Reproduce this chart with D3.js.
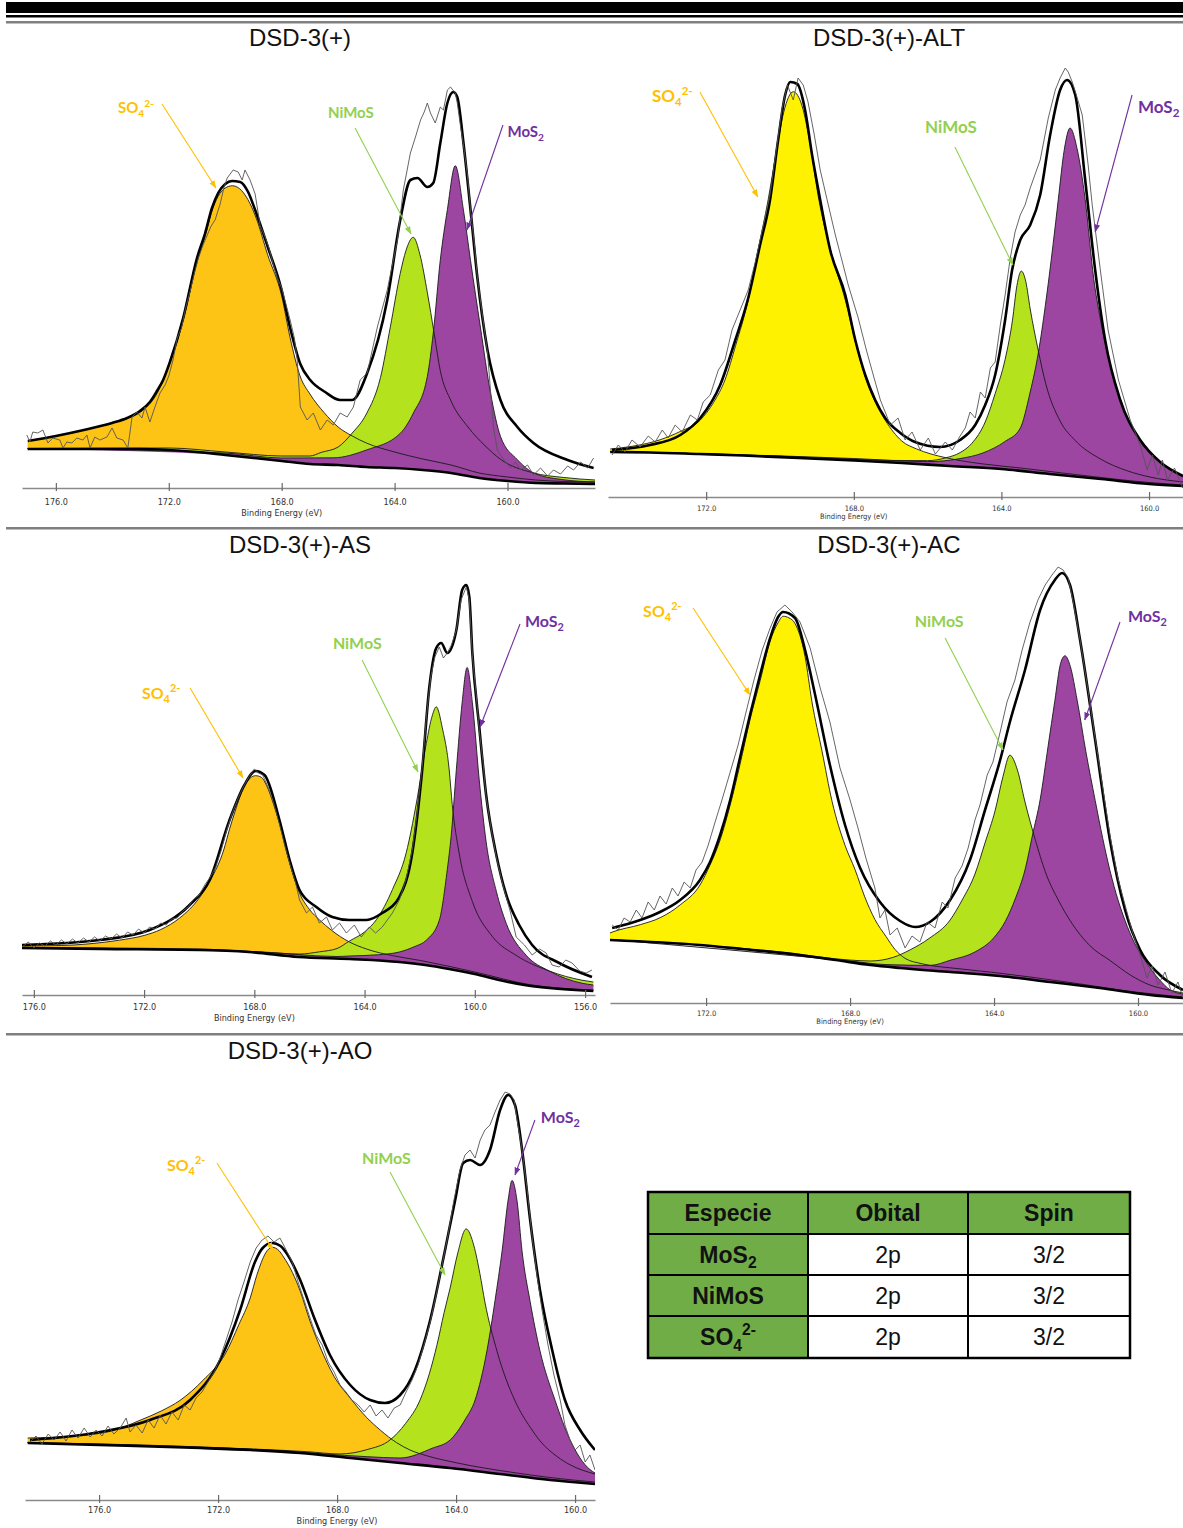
<!DOCTYPE html>
<html>
<head>
<meta charset="utf-8">
<script src="https://cdn.jsdelivr.net/npm/d3@7"></script>
<style>
  body { margin: 0; background: #fff; }
  svg { display: block; }
</style>
</head>
<body>
<svg id="fig" width="1183" height="1528"></svg>
<script>
// S 2p fits, binding energy (eV) vs intensity (a.u.). Components are
// heights above the Shirley background.

// --- DSD-3(+) ---
const ticksBase = [176, 172, 168, 164, 160];
const bgBase = [[177.0, 39], [176, 39], [175, 39], [174, 39], [173, 39], [172, 38], [171, 36], [170, 33], [169, 30], [168, 27], [167, 24], [166, 23], [165, 21], [164, 20], [163, 18], [162, 15], [161, 10], [160, 7], [159, 5], [158, 4.5], [156.9, 4]];
const so4Base = [[177.0, 8], [176, 13], [175, 19], [174, 26], [173.5, 30], [173, 37], [172.4, 57], [172, 84], [171.5, 130], [171, 190], [170.7, 218], [170.5, 240], [170.25, 258], [170, 267], [169.75, 270], [169.5, 268], [169.2, 258], [168.9, 240], [168.5, 205], [168, 165], [167.7, 124], [167.35, 87], [167, 70], [166.5, 52], [166, 38], [165.5, 30], [165, 24], [164, 16], [163, 11], [162, 8], [161, 5], [160, 4], [159, 3], [158, 2], [156.9, 2]];
const nimosBase = [[177.0, 0.5], [172, 2], [170, 3], [168, 5], [167, 8], [166.6, 12], [166, 18], [165.5, 33], [165, 53], [164.5, 90], [164.15, 141], [163.8, 195], [163.6, 218], [163.34, 232], [163.1, 215], [162.84, 178], [162.6, 138], [162.38, 101], [162, 72], [161.4, 49], [160.8, 33], [160.25, 21], [159.1, 10], [158, 6], [156.9, 4]];
const mos2Base = [[177.0, 0.5], [170, 2], [168, 3], [166.17, 7], [165, 17], [163.8, 35], [163.34, 56], [162.84, 94], [162.63, 138], [162.38, 212], [162.13, 263], [161.85, 308], [161.56, 265], [161.31, 216], [160.96, 151], [160.6, 86], [160.25, 44], [159.65, 22], [159.08, 10], [158.1, 4], [156.9, 2]];
const envBase = [[176.99, 47], [176.0, 52], [175.01, 58], [174.01, 65], [173.48, 70], [173.02, 77], [172.67, 86], [172.42, 97], [172.2, 108], [171.96, 126], [171.49, 170], [171.0, 230], [170.71, 255], [170.47, 280], [170.25, 295], [170.0, 304], [169.76, 307], [169.47, 306], [169.19, 296], [168.94, 278], [168.48, 240], [168.02, 200], [167.7, 160], [167.34, 124], [166.99, 108], [166.46, 96], [165.93, 88], [165.5, 88], [164.97, 115], [164.26, 188], [163.8, 268], [163.44, 308], [163.19, 310], [162.84, 301], [162.63, 305], [162.38, 345], [162.13, 385], [161.92, 396], [161.78, 391], [161.56, 345], [161.31, 278], [161.07, 211], [160.71, 138], [160.25, 88], [159.65, 61], [159.08, 45], [157.87, 28], [156.95, 20]];
const rawBase = [[177.03, 53], [176.92, 46], [176.82, 56], [176.64, 55], [176.46, 58], [176.28, 45], [176.11, 50], [175.86, 48], [175.75, 40], [175.61, 46], [175.43, 45], [175.26, 50], [175.04, 48], [174.9, 53], [174.79, 40], [174.62, 51], [174.44, 48], [174.19, 51], [174.01, 60], [173.84, 50], [173.62, 48], [173.45, 40], [173.3, 71], [173.13, 76], [172.95, 70], [172.84, 81], [172.67, 66], [172.49, 81], [172.31, 95], [172.13, 103], [172.0, 112], [171.85, 128], [171.7, 150], [171.55, 160], [171.4, 180], [171.25, 196], [171.1, 214], [170.95, 230], [170.8, 242], [170.65, 252], [170.5, 262], [170.36, 268], [170.18, 284], [170.05, 300], [169.93, 310], [169.72, 318], [169.54, 316], [169.4, 308], [169.3, 318], [169.12, 308], [168.94, 294], [168.76, 262], [168.6, 252], [168.45, 240], [168.3, 224], [168.15, 210], [168.0, 200], [167.85, 184], [167.7, 168], [167.55, 150], [167.45, 128], [167.34, 81], [167.1, 68], [166.88, 75], [166.63, 58], [166.39, 68], [166.17, 63], [165.93, 75], [165.68, 71], [165.46, 81], [165.22, 108], [164.97, 115], [164.61, 161], [164.26, 198], [163.9, 248], [163.69, 298], [163.44, 335], [163.26, 351], [163.08, 368], [162.95, 376], [162.84, 385], [162.73, 375], [162.56, 365], [162.38, 381], [162.27, 378], [162.13, 398], [162.02, 401], [161.85, 395], [161.78, 385], [161.67, 363], [161.56, 343], [161.42, 313], [161.31, 278], [161.17, 243], [161.07, 211], [160.89, 173], [160.71, 136], [160.5, 61], [160.36, 38], [160.25, 33], [160.07, 26], [159.89, 20], [159.72, 26], [159.54, 18], [159.29, 23], [159.08, 13], [158.83, 20], [158.58, 12], [158.37, 18], [158.12, 14], [157.87, 22], [157.66, 18], [157.41, 26], [157.16, 20], [156.95, 30]];

// --- DSD-3(+)-ALT ---
const ticksAlt = [172, 168, 164, 160];
const bgAlt = [[174.6, 45], [173.5, 44.5], [172.2, 43], [171, 41.5], [169.5, 39], [168, 36.5], [166.7, 34], [165.4, 31], [164, 28], [162.7, 23], [161.3, 18], [160, 13], [159.08, 11]];
const so4Alt = [[174.6, 3], [174, 6], [173.25, 13], [172.7, 22], [172.16, 34], [171.8, 52], [171.49, 75], [171.2, 110], [170.86, 156], [170.6, 205], [170.32, 257], [170.1, 305], [169.9, 345], [169.64, 366], [169.4, 352], [169.2, 318], [168.96, 262], [168.6, 205], [168.23, 160], [167.95, 118], [167.69, 84], [167.4, 58], [167.15, 42], [166.7, 22], [166.3, 15], [165.93, 11], [165.5, 8], [165.12, 6], [164.5, 4], [163.5, 3], [162, 2], [160, 1.5], [159.08, 1]];
const nimosAlt = [[174.6, 0.5], [170, 1], [167, 2], [166, 4], [165.5, 8], [165.12, 14], [164.8, 24], [164.44, 46], [164.17, 75], [163.9, 110], [163.7, 150], [163.58, 185], [163.46, 200], [163.34, 190], [163.22, 163], [163.0, 122], [162.8, 90], [162.41, 54], [162, 36], [161.32, 20], [160.6, 11], [159.97, 7], [159.08, 4]];
const mos2Alt = [[174.6, 0.5], [168, 2], [166, 3], [165.12, 8], [164.5, 15], [163.9, 28], [163.5, 42], [163.22, 80], [163, 120], [162.81, 168], [162.6, 230], [162.46, 275], [162.3, 325], [162.14, 348], [161.95, 328], [161.73, 278], [161.5, 200], [161.32, 160], [161, 108], [160.78, 80], [160.51, 58], [160.1, 38], [159.7, 22], [159.4, 15], [159.08, 10]];
const envAlt = [[174.55, 47], [173.52, 52], [172.7, 62], [172.16, 79], [171.62, 112], [171.21, 157], [170.86, 199], [170.54, 252], [170.27, 297], [170.05, 357], [169.86, 402], [169.72, 415], [169.53, 413], [169.32, 387], [169.13, 342], [168.96, 307], [168.64, 247], [168.23, 202], [167.96, 157], [167.69, 122], [167.42, 97], [167.15, 79], [166.74, 64], [166.34, 55], [165.66, 50], [165.12, 57], [164.71, 72], [164.44, 92], [164.17, 122], [163.9, 177], [163.71, 227], [163.49, 257], [163.22, 272], [162.95, 302], [162.68, 362], [162.41, 407], [162.22, 417], [162.0, 402], [161.73, 317], [161.46, 227], [161.19, 157], [160.78, 97], [160.24, 57], [159.7, 35], [159.08, 21]];
const rawAlt = [[174.55, 42], [174.38, 52], [174.2, 45], [174.01, 57], [173.79, 50], [173.57, 61], [173.38, 55], [173.19, 67], [173.03, 59], [172.84, 72], [172.65, 65], [172.43, 82], [172.24, 77], [172.08, 95], [171.89, 102], [171.67, 127], [171.49, 137], [171.3, 167], [171.08, 187], [170.86, 207], [170.67, 235], [170.48, 267], [170.27, 302], [170.1, 347], [169.94, 389], [169.8, 412], [169.64, 397], [169.51, 419], [169.37, 412], [169.24, 395], [169.07, 362], [168.91, 327], [168.69, 292], [168.5, 262], [168.31, 235], [168.15, 212], [167.88, 179], [167.66, 147], [167.45, 119], [167.28, 97], [167.01, 72], [166.8, 79], [166.61, 57], [166.42, 65], [166.2, 47], [165.98, 59], [165.79, 43], [165.52, 55], [165.33, 47], [165.12, 61], [164.98, 69], [164.85, 85], [164.71, 79], [164.57, 105], [164.44, 99], [164.3, 129], [164.17, 135], [164.03, 172], [163.9, 202], [163.76, 239], [163.63, 265], [163.49, 282], [163.36, 292], [163.22, 309], [162.95, 337], [162.73, 379], [162.54, 407], [162.41, 419], [162.27, 429], [162.19, 425], [162.08, 415], [161.97, 402], [161.81, 382], [161.65, 332], [161.54, 292], [161.32, 227], [161.11, 167], [160.83, 117], [160.51, 77], [160.24, 52], [160.05, 27], [159.91, 42], [159.75, 22], [159.64, 37], [159.5, 17], [159.31, 29], [159.09, 9]];

// --- DSD-3(+)-AS ---
const ticksAs = [176, 172, 168, 164, 160, 156];
const bgAs = [[176.43, 47], [173.6, 46], [170, 45], [168.2, 43], [166.4, 38], [164.55, 36], [162.74, 33], [161.8, 30], [160.93, 26], [160, 21], [159.12, 15], [158.2, 10], [157.3, 7], [155.7, 4]];
const so4As = [[176.43, 2], [175, 3], [174, 5], [172.9, 9], [172, 14], [171.4, 20], [170.7, 32], [170, 52], [169.6, 70], [169.1, 102], [168.9, 122], [168.7, 140], [168.36, 166], [168.15, 174], [167.96, 177], [167.75, 176], [167.55, 168], [167.3, 150], [167.0, 124], [166.7, 92], [166.36, 64], [166.0, 48], [165.64, 38], [165.2, 28], [164.55, 17], [163.93, 11], [163, 6], [162, 4], [160, 2], [158, 1], [155.7, 1]];
const nimosAs = [[176.43, 0.5], [170, 1], [167, 2], [166.36, 3], [165.64, 6], [165, 10], [164.55, 18], [164, 28], [163.57, 41], [162.99, 72], [162.49, 110], [162.12, 161], [161.76, 222], [161.55, 250], [161.4, 260], [161.18, 240], [160.93, 199], [160.82, 165], [160.57, 118], [160.09, 72], [159.37, 42], [158.5, 28], [157.3, 17], [156.11, 10], [155.7, 9]];
const mos2As = [[176.43, 0.5], [168, 1], [165, 2], [164.55, 3], [163.5, 6], [162.74, 10], [162.2, 17], [161.76, 25], [161.29, 47], [161, 99], [160.86, 133], [160.67, 201], [160.46, 269], [160.28, 305], [160.09, 271], [159.84, 195], [159.59, 135], [159.22, 88], [158.86, 58], [158.14, 30], [157.3, 17], [156.11, 7], [155.7, 6]];
const envAs = [[176.43, 50], [173.61, 55], [171.8, 65], [170.35, 90], [169.62, 115], [168.9, 175], [168.36, 210], [167.96, 224], [167.63, 220], [167.09, 175], [166.72, 135], [166.36, 105], [165.75, 88], [165.17, 78], [164.55, 75], [163.93, 75], [163.36, 82], [162.74, 98], [162.27, 142], [161.91, 225], [161.65, 308], [161.4, 347], [161.22, 352], [161.0, 342], [160.67, 365], [160.46, 405], [160.31, 410], [160.2, 398], [160.09, 342], [159.84, 268], [159.59, 200], [159.22, 140], [158.86, 100], [158.39, 70], [157.92, 50], [156.94, 32], [155.75, 18]];
const rawAs = [[176.43, 48], [176.2, 53], [176.0, 47], [175.8, 52], [175.6, 49], [175.4, 54], [175.2, 50], [175.0, 55], [174.8, 51], [174.6, 56], [174.4, 52], [174.2, 57], [174.0, 53], [173.8, 58], [173.6, 54], [173.4, 59], [173.2, 56], [173.0, 61], [172.8, 57], [172.6, 63], [172.4, 60], [172.2, 66], [172.0, 62], [171.8, 68], [171.6, 66], [171.4, 72], [171.2, 70], [171.0, 76], [170.8, 77], [170.6, 84], [170.4, 88], [170.2, 96], [170.0, 100], [169.8, 110], [169.6, 118], [169.4, 128], [169.2, 145], [169.0, 165], [168.8, 182], [168.6, 196], [168.4, 208], [168.2, 218], [168.0, 226], [167.85, 222], [167.7, 220], [167.5, 208], [167.3, 192], [167.1, 172], [166.9, 150], [166.7, 130], [166.5, 112], [166.36, 95], [166.11, 82], [165.89, 88], [165.64, 72], [165.38, 78], [165.17, 65], [164.91, 72], [164.66, 62], [164.37, 70], [164.12, 58], [163.83, 68], [163.6, 62], [163.36, 68], [162.99, 82], [162.74, 95], [162.5, 115], [162.27, 145], [162.1, 180], [161.91, 228], [161.75, 280], [161.6, 318], [161.45, 338], [161.29, 348], [161.14, 337], [161.0, 342], [160.85, 350], [160.67, 365], [160.5, 395], [160.31, 408], [160.2, 395], [160.09, 340], [159.95, 300], [159.84, 265], [159.7, 232], [159.59, 198], [159.4, 165], [159.22, 138], [159.0, 112], [158.86, 98], [158.7, 82], [158.5, 58], [158.2, 50], [157.92, 40], [157.65, 46], [157.41, 42], [157.2, 30], [156.94, 28], [156.7, 35], [156.47, 32], [156.2, 24], [155.96, 22], [155.75, 25]];

// --- DSD-3(+)-AC ---
const ticksAc = [172, 168, 164, 160];
const bgAc = [[174.67, 63], [172.17, 58], [171, 54], [169.39, 48], [168.4, 43], [167.44, 38], [166.61, 35], [165.22, 31], [163.83, 27], [162.44, 21], [161.06, 15], [159.67, 8], [158.75, 5]];
const so4Ac = [[174.67, 7], [174.61, 8], [173.83, 17], [173.28, 25], [172.72, 39], [172.17, 60], [171.89, 81], [171.61, 107], [171.33, 143], [171.06, 184], [170.78, 230], [170.5, 270], [170.22, 311], [170.0, 330], [169.86, 337], [169.7, 336], [169.53, 331], [169.25, 299], [169.06, 255], [168.78, 207], [168.5, 158], [168.14, 116], [167.86, 93], [167.6, 68], [167.31, 46], [167.0, 30], [166.75, 18], [166.47, 10], [166, 6], [165, 4], [164, 3], [162, 2], [160, 1], [158.75, 1]];
const nimosAc = [[174.67, 0.5], [170, 1], [168, 2], [167.44, 4], [166.8, 10], [166.33, 19], [165.8, 32], [165.22, 52], [164.9, 72], [164.53, 100], [164.25, 132], [163.97, 165], [163.75, 200], [163.56, 222], [163.35, 208], [163.14, 177], [162.85, 140], [162.58, 110], [162.2, 82], [161.89, 64], [161.3, 40], [160.78, 29], [160.2, 17], [159.67, 10], [159.2, 7], [158.75, 5]];
const mos2Ac = [[174.67, 0.5], [168, 1], [167, 2], [165.78, 5], [165.2, 12], [164.53, 22], [164, 38], [163.69, 55], [163.4, 80], [163.14, 109], [162.93, 145], [162.72, 181], [162.5, 235], [162.31, 282], [162.15, 320], [162.03, 328], [161.88, 318], [161.69, 285], [161.45, 235], [161.19, 187], [160.98, 150], [160.78, 119], [160.55, 90], [160.36, 71], [160.1, 50], [159.81, 34], [159.4, 16], [159.11, 7], [158.75, 4]];
const envAc = [[174.61, 75], [173.83, 83], [173.28, 91], [172.72, 103], [172.17, 123], [171.89, 141], [171.61, 168], [171.33, 203], [171.06, 245], [170.78, 288], [170.5, 328], [170.22, 365], [170.0, 386], [169.86, 391], [169.53, 385], [169.25, 353], [168.97, 308], [168.56, 238], [168.14, 178], [167.72, 135], [167.17, 101], [166.61, 82], [166.19, 76], [165.78, 81], [165.22, 103], [164.67, 143], [164.25, 193], [163.83, 243], [163.56, 281], [163.14, 333], [162.72, 393], [162.31, 423], [162.11, 430], [161.89, 418], [161.61, 363], [161.19, 263], [160.78, 163], [160.36, 93], [159.94, 53], [159.39, 28], [158.75, 13]];
const rawAc = [[174.61, 78], [174.44, 73], [174.28, 85], [174.11, 81], [173.94, 93], [173.78, 85], [173.61, 101], [173.44, 93], [173.28, 107], [173.11, 99], [172.94, 115], [172.78, 107], [172.61, 121], [172.44, 115], [172.28, 133], [172.11, 141], [171.94, 158], [171.75, 181], [171.56, 203], [171.33, 231], [171.11, 258], [170.89, 291], [170.67, 323], [170.44, 353], [170.22, 375], [170.03, 391], [169.81, 398], [169.61, 391], [169.39, 381], [169.11, 355], [168.83, 315], [168.56, 281], [168.28, 235], [168.0, 203], [167.78, 175], [167.56, 145], [167.31, 115], [167.17, 85], [167.03, 93], [166.89, 68], [166.69, 75], [166.47, 55], [166.28, 67], [166.06, 61], [165.86, 81], [165.64, 75], [165.44, 101], [165.28, 95], [165.08, 125], [164.89, 137], [164.72, 155], [164.53, 183], [164.39, 198], [164.19, 228], [164.03, 241], [163.83, 271], [163.64, 301], [163.42, 323], [163.22, 353], [163.0, 381], [162.78, 403], [162.58, 418], [162.39, 428], [162.22, 436], [162.08, 433], [161.94, 425], [161.81, 403], [161.61, 363], [161.39, 313], [161.19, 265], [160.97, 213], [160.78, 168], [160.56, 125], [160.36, 98], [160.17, 73], [159.94, 48], [159.75, 25], [159.61, 37], [159.44, 18], [159.25, 31], [159.06, 10], [158.89, 21], [158.75, 5]];

// --- DSD-3(+)-AO ---
const ticksAo = [176, 172, 168, 164, 160];
const bgAo = [[178.4, 57], [176, 55], [172.6, 52], [170.9, 50], [169.24, 47], [167.56, 42], [165.88, 37], [164.2, 32], [162.52, 26], [160.84, 20], [159.33, 16]];
const so4Ao = [[178.4, 5], [176.64, 9], [175.5, 15], [174.62, 26], [173.9, 36], [173.28, 47], [172.5, 68], [171.76, 95], [171.3, 125], [170.92, 152], [170.7, 175], [170.55, 188], [170.4, 198], [170.18, 204], [169.95, 201], [169.8, 195], [169.5, 180], [169.24, 162], [168.9, 132], [168.57, 108], [168.1, 80], [167.56, 60], [167, 42], [166.55, 31], [166, 20], [165.55, 14], [165, 10], [164, 6], [162, 3], [160, 2], [159.33, 2]];
const nimosAo = [[178.4, 0.5], [172, 1], [169, 2], [167.9, 3], [167, 10], [166.22, 22], [165.7, 40], [165.21, 65], [164.9, 92], [164.64, 122], [164.4, 155], [164.2, 180], [163.95, 215], [163.66, 241], [163.4, 225], [163.2, 198], [163.03, 170], [162.62, 122], [162.02, 75], [161.5, 50], [161.18, 38], [160.6, 24], [160.17, 17], [159.33, 10]];
const mos2Ao = [[178.4, 0.5], [170, 1], [167, 3], [165.88, 5], [164.8, 18], [164.2, 28], [163.7, 50], [163.36, 71], [162.96, 122], [162.69, 173], [162.45, 224], [162.25, 275], [162.12, 295], [161.95, 275], [161.78, 225], [161.51, 176], [161.18, 128], [160.67, 80], [160.17, 42], [159.5, 14], [159.33, 11]];
const envAo = [[178.32, 60], [175.97, 68], [174.29, 80], [172.94, 100], [171.93, 140], [171.26, 190], [170.76, 238], [170.5, 252], [170.18, 257], [169.9, 254], [169.75, 249], [169.24, 220], [168.74, 180], [168.24, 145], [167.56, 115], [166.89, 100], [166.39, 97], [165.88, 105], [165.38, 130], [164.87, 180], [164.37, 250], [164.03, 300], [163.76, 337], [163.53, 340], [163.19, 335], [162.86, 350], [162.52, 390], [162.25, 405], [162.02, 395], [161.78, 350], [161.51, 280], [161.18, 210], [160.77, 150], [160.34, 100], [159.83, 70], [159.33, 50]];
const rawAo = [[178.32, 58], [178.12, 64], [177.92, 56], [177.71, 66], [177.51, 60], [177.31, 68], [177.11, 59], [176.91, 70], [176.71, 62], [176.5, 72], [176.3, 63], [176.1, 70], [175.9, 64], [175.7, 74], [175.5, 66], [175.29, 72], [175.09, 82], [174.96, 68], [174.76, 75], [174.55, 67], [174.35, 80], [174.15, 72], [173.95, 85], [173.75, 76], [173.55, 88], [173.34, 80], [173.14, 95], [172.94, 90], [172.74, 102], [172.54, 108], [172.34, 118], [172.13, 128], [171.93, 142], [171.73, 160], [171.53, 178], [171.33, 200], [171.13, 218], [170.92, 238], [170.72, 252], [170.52, 260], [170.32, 264], [170.12, 258], [169.92, 262], [169.71, 250], [169.51, 238], [169.31, 218], [169.11, 200], [168.91, 182], [168.71, 165], [168.5, 155], [168.3, 138], [168.1, 128], [167.9, 115], [167.7, 108], [167.5, 100], [167.29, 95], [167.09, 88], [166.89, 95], [166.69, 84], [166.49, 90], [166.29, 82], [166.08, 92], [165.88, 95], [165.68, 108], [165.48, 120], [165.28, 135], [165.08, 155], [164.87, 178], [164.67, 205], [164.47, 235], [164.27, 265], [164.07, 300], [163.87, 330], [163.7, 345], [163.53, 350], [163.36, 342], [163.19, 360], [163.03, 370], [162.86, 375], [162.69, 388], [162.52, 400], [162.35, 408], [162.18, 406], [162.05, 400], [161.92, 375], [161.78, 350], [161.61, 310], [161.45, 265], [161.28, 225], [161.11, 190], [160.91, 155], [160.71, 125], [160.5, 100], [160.34, 75], [160.17, 60], [160.0, 50], [159.83, 55], [159.66, 38], [159.5, 45], [159.33, 30]];

// --- table ---
const tableHeader = ['Especie', 'Obital', 'Spin'];
const tableSpecies = ['MoS_2', 'NiMoS', 'SO_4^2-'];
const tableOrbital = ['2p', '2p', '2p'];
const tableSpin = ['3/2', '3/2', '3/2'];

const fills = {so4: '#FDC315', so4Alt: '#FFF200', nimos: '#B4E31E', mos2: '#9C45A1'};
const ink = {so4: '#FFC000', nimos: '#92D050', mos2: '#7030A0'};
const FONT = '"Liberation Sans", Arial, sans-serif';
const NARROW = '"Liberation Sans Narrow", "DejaVu Sans Condensed", sans-serif';

// label / arrow anchors given in data units [BE, intensity]
const panels = [
  {title: 'DSD-3(+)', bg: bgBase, comps: [so4Base, nimosBase, mos2Base], env: envBase, raw: rawBase, ticks: ticksBase,
    so4Fill: fills.so4, domain: [177.2, 156.9], x0: 22, x1: 595, axisY: 488, titleX: 300, titleY: 46,
    tickFont: 9, tickDy: 17, beDy: 28, noteSize: 15,
    notes: [{key: 'so4', text: 'SO_4^2-', at: [173.8, 375], from: [172.24, 384], to: [170.33, 300]},
      {key: 'nimos', text: 'NiMoS', at: [166.36, 370], from: [165.4, 360], to: [163.42, 254]},
      {key: 'mos2', text: 'MoS_2', at: [160.0, 351], from: [160.16, 363], to: [161.44, 258]}]},
  {title: 'DSD-3(+)-ALT', bg: bgAlt, comps: [so4Alt, nimosAlt, mos2Alt], env: envAlt, raw: rawAlt, ticks: ticksAlt,
    so4Fill: fills.so4Alt, domain: [174.66, 159.08], x0: 608, x1: 1183, axisY: 497, titleX: 889, titleY: 46,
    tickFont: 7.5, tickDy: 13.5, beDy: 21.5, noteSize: 17,
    notes: [{key: 'so4', text: 'SO_4^2-', at: [173.47, 395], from: [172.17, 405], to: [170.6, 300]},
      {key: 'nimos', text: 'NiMoS', at: [166.07, 364], from: [165.26, 350], to: [163.69, 232]},
      {key: 'mos2', text: 'MoS_2', at: [160.3, 384], from: [160.46, 402], to: [161.46, 265]}]},
  {title: 'DSD-3(+)-AS', bg: bgAs, comps: [so4As, nimosAs, mos2As], env: envAs, raw: rawAs, ticks: ticksAs,
    so4Fill: fills.so4, domain: [176.43, 155.64], x0: 22, x1: 595, axisY: 995, titleX: 300, titleY: 553,
    tickFont: 9, tickDy: 15, beDy: 26, noteSize: 16,
    notes: [{key: 'so4', text: 'SO_4^2-', at: [172.08, 296], from: [170.33, 307], to: [168.41, 217]},
      {key: 'nimos', text: 'NiMoS', at: [165.15, 346], from: [164.09, 335], to: [162.06, 223]},
      {key: 'mos2', text: 'MoS_2', at: [158.18, 368], from: [158.36, 371], to: [159.81, 268]}]},
  {title: 'DSD-3(+)-AC', bg: bgAc, comps: [so4Ac, nimosAc, mos2Ac], env: envAc, raw: rawAc, ticks: ticksAc,
    so4Fill: fills.so4Alt, domain: [174.67, 158.75], x0: 610, x1: 1183, axisY: 1003, titleX: 889, titleY: 553,
    tickFont: 7.5, tickDy: 12.5, beDy: 20.5, noteSize: 16,
    notes: [{key: 'so4', text: 'SO_4^2-', at: [173.75, 386], from: [172.36, 395], to: [170.78, 308]},
      {key: 'nimos', text: 'NiMoS', at: [166.2, 376], from: [165.36, 365], to: [163.75, 253]},
      {key: 'mos2', text: 'MoS_2', at: [160.28, 381], from: [160.5, 381], to: [161.48, 283]}]},
  {title: 'DSD-3(+)-AO', bg: bgAo, comps: [so4Ao, nimosAo, mos2Ao], env: envAo, raw: rawAo, ticks: ticksAo,
    so4Fill: fills.so4, domain: [178.49, 159.33], x0: 25, x1: 595, axisY: 1500, titleX: 300, titleY: 1059,
    tickFont: 9, tickDy: 13, beDy: 24, noteSize: 16,
    notes: [{key: 'so4', text: 'SO_4^2-', at: [173.72, 329], from: [172.04, 337], to: [170.15, 250]},
      {key: 'nimos', text: 'NiMoS', at: [167.16, 336], from: [166.22, 328], to: [164.37, 225]},
      {key: 'mos2', text: 'MoS_2', at: [161.15, 377], from: [161.35, 380], to: [162.02, 325]}]}
];

const svg = d3.select('#fig');

/**
 * Writes a formula like 'SO_4^2-' into a text element as tspans,
 * '_x' lowered and '^x' raised.
 */
function appendFormula(text, formula, size) {
  const parts = formula.split(/(_\d|\^[\d+-]+)/).filter(Boolean);
  let shift = 0;
  parts.forEach((part) => {
    let str = part;
    let next = 0;
    let s = size;
    if (part[0] === '_') {
      str = part.slice(1); next = size * 0.25; s = size * 0.68;
    } else if (part[0] === '^') {
      str = part.slice(1); next = -size * 0.42; s = size * 0.68;
    }
    text.append('tspan').attr('dy', next - shift).attr('font-size', s).text(str);
    shift = next;
  });
}

function drawHeader() {
  svg.append('rect').attr('x', 6).attr('y', 2).attr('width', 1177).attr('height', 11).attr('fill', '#000');
  svg.append('rect').attr('x', 6).attr('y', 15).attr('width', 1177).attr('height', 2.5).attr('fill', '#000');
  svg.append('rect').attr('x', 6).attr('y', 21).attr('width', 1177).attr('height', 2.5).attr('fill', '#808080');
  [528, 1034].forEach((yy) => {
    svg.append('rect').attr('x', 6).attr('y', yy - 1).attr('width', 1177).attr('height', 2.5).attr('fill', '#7f7f7f');
  });
}

function makeMarkers() {
  const defs = svg.append('defs');
  Object.keys(ink).forEach((k) => {
    defs.append('marker')
      .attr('id', `arrow-${k}`)
      .attr('viewBox', '0 0 8 6')
      .attr('refX', 7.5).attr('refY', 3)
      .attr('markerUnits', 'userSpaceOnUse')
      .attr('markerWidth', 8).attr('markerHeight', 6)
      .attr('orient', 'auto')
      .append('path')
      .attr('d', 'M0,0 L8,3 L0,6 Z')
      .attr('fill', ink[k]);
  });
  return defs;
}

function drawPanel(p, i, defs) {
  const x = d3.scaleLinear().domain(p.domain).range([p.x0, p.x1]);
  const y = d3.scaleLinear().domain([0, 440]).range([p.axisY, p.axisY - 440]);
  const bgAt = d3.scaleLinear().domain(p.bg.map((d) => d[0])).range(p.bg.map((d) => d[1])).clamp(true);

  defs.append('clipPath').attr('id', `clip-${i}`)
    .append('rect')
    .attr('x', p.x0).attr('y', p.axisY - 470)
    .attr('width', p.x1 - p.x0).attr('height', 470);

  svg.append('text')
    .attr('x', p.titleX).attr('y', p.titleY)
    .attr('text-anchor', 'middle')
    .attr('font-family', FONT).attr('font-size', 24).attr('fill', '#111')
    .text(p.title);

  const g = svg.append('g').attr('clip-path', `url(#clip-${i})`);

  const area = d3.area()
    .x((d) => x(d[0]))
    .y0((d) => y(bgAt(d[0])))
    .y1((d) => y(bgAt(d[0]) + d[1]))
    .curve(d3.curveMonotoneX);
  const top = d3.line()
    .x((d) => x(d[0]))
    .y((d) => y(bgAt(d[0]) + d[1]))
    .curve(d3.curveMonotoneX);
  const line = d3.line().x((d) => x(d[0])).y((d) => y(d[1])).curve(d3.curveMonotoneX);

  const compFill = [p.so4Fill, fills.nimos, fills.mos2];
  p.comps.forEach((c, j) => {
    g.append('path').datum(c).attr('d', area).attr('fill', compFill[j]);
  });
  p.comps.forEach((c) => {
    g.append('path').datum(c).attr('d', top)
      .attr('fill', 'none').attr('stroke', '#1a1a1a').attr('stroke-width', 0.9);
  });

  g.append('path').datum(p.bg).attr('d', line)
    .attr('fill', 'none').attr('stroke', '#000').attr('stroke-width', 2.6);
  g.append('path').datum(p.env).attr('d', line)
    .attr('fill', 'none').attr('stroke', '#000').attr('stroke-width', 2.6);
  g.append('path').datum(p.raw)
    .attr('d', d3.line().x((d) => x(d[0])).y((d) => y(d[1])))
    .attr('fill', 'none').attr('stroke', '#555').attr('stroke-width', 0.9);

  // x axis
  const ax = svg.append('g')
    .attr('transform', `translate(0,${p.axisY})`)
    .call(d3.axisBottom(x).tickValues(p.ticks).tickFormat(d3.format('.1f')).tickSizeOuter(0).tickSizeInner(0));
  ax.select('.domain').attr('stroke', '#8a8a8a').attr('stroke-width', 1.6);
  ax.selectAll('.tick line').attr('y1', -5).attr('y2', 3).attr('stroke', '#6a6a6a').attr('stroke-width', 1.2);
  ax.selectAll('.tick text')
    .attr('y', p.tickDy).attr('dy', null)
    .attr('font-family', NARROW).attr('font-size', p.tickFont).attr('fill', '#333');
  svg.append('text')
    .attr('x', x(168)).attr('y', p.axisY + p.beDy)
    .attr('text-anchor', 'middle')
    .attr('font-family', NARROW).attr('font-size', p.tickFont).attr('fill', '#333')
    .text('Binding Energy (eV)');

  // annotations
  p.notes.forEach((n) => {
    svg.append('line')
      .attr('x1', x(n.from[0])).attr('y1', y(n.from[1]))
      .attr('x2', x(n.to[0])).attr('y2', y(n.to[1]))
      .attr('stroke', ink[n.key]).attr('stroke-width', 1.1)
      .attr('marker-end', `url(#arrow-${n.key})`);
    const t = svg.append('text')
      .attr('x', x(n.at[0])).attr('y', y(n.at[1]))
      .attr('font-family', 'Lato, "Open Sans", sans-serif').attr('font-weight', 700)
      .attr('fill', ink[n.key]);
    appendFormula(t, n.text, p.noteSize);
  });
}

function drawTable() {
  const cols = d3.scaleOrdinal().domain([0, 1, 2]).range([648, 808, 968]);
  const colW = [160, 160, 162];
  const rowY = d3.scaleOrdinal().domain([0, 1, 2, 3]).range([1192, 1234, 1275, 1316]);
  const rowH = [42, 41, 41, 42];
  const rows = [tableHeader].concat(tableSpecies.map((s, i) => [s, tableOrbital[i], tableSpin[i]]));
  const tg = svg.append('g');

  rows.forEach((r, ri) => {
    r.forEach((cell, ci) => {
      const green = ri === 0 || ci === 0;
      tg.append('rect')
        .attr('x', cols(ci)).attr('y', rowY(ri))
        .attr('width', colW[ci]).attr('height', rowH[ri])
        .attr('fill', green ? '#70AD47' : '#fff')
        .attr('stroke', '#000').attr('stroke-width', 2);
      const t = tg.append('text')
        .attr('x', cols(ci) + colW[ci] / 2).attr('y', rowY(ri) + rowH[ri] / 2 + 8)
        .attr('text-anchor', 'middle')
        .attr('font-family', FONT).attr('font-size', 23)
        .attr('font-weight', green ? 700 : 400).attr('fill', '#111');
      appendFormula(t, cell, 23);
    });
  });
  tg.append('rect').attr('x', 648).attr('y', 1192).attr('width', 482).attr('height', 166)
    .attr('fill', 'none').attr('stroke', '#000').attr('stroke-width', 2.5);
}

drawHeader();
const defs = makeMarkers();
panels.forEach((p, i) => drawPanel(p, i, defs));
drawTable();
</script>
</body>
</html>
